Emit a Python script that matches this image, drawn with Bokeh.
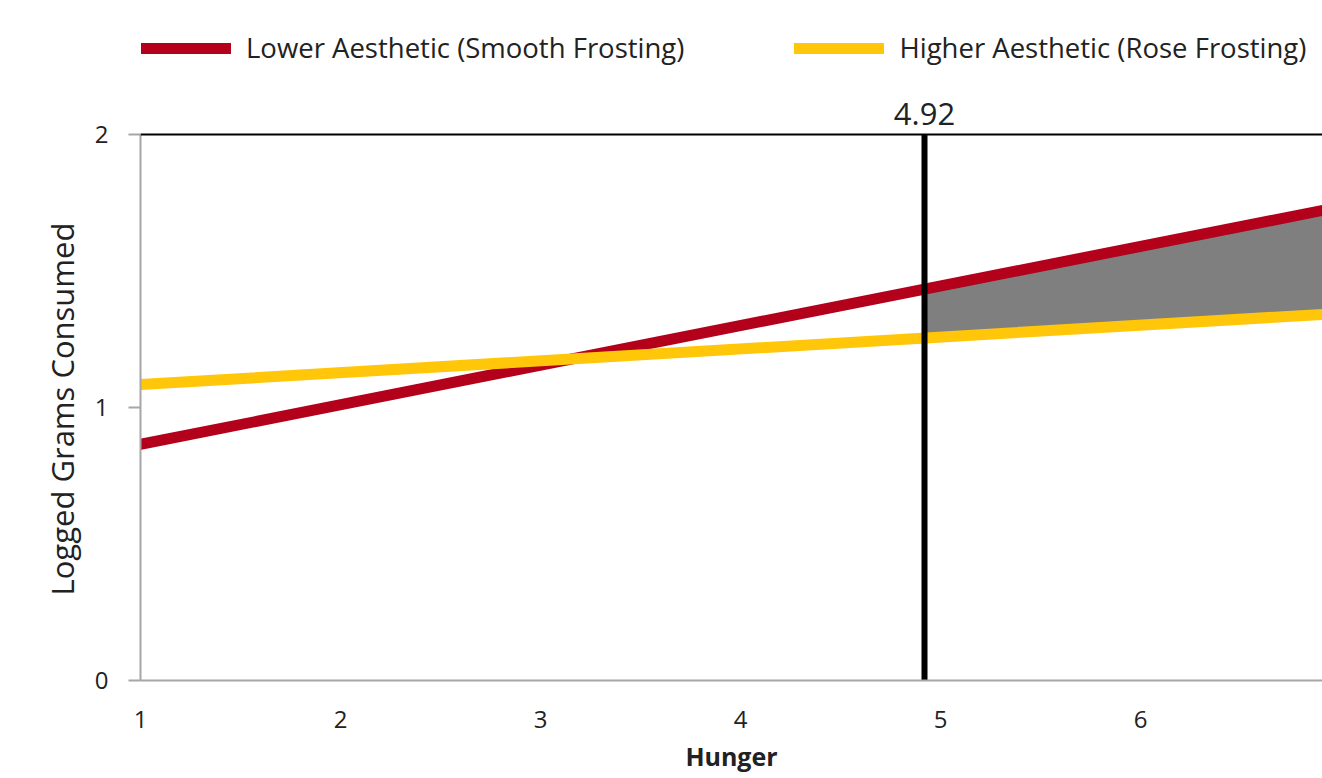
from bokeh.plotting import figure
from bokeh.models import Range1d, Span, Label, Legend, LegendItem, FixedTicker, Title
from bokeh.embed import file_html
from bokeh.resources import INLINE

# Data
hunger = [1, 7]
lower_aesthetic = [0.865, 1.735]   # Smooth Frosting
higher_aesthetic = [1.084, 1.345]  # Rose Frosting
cutoff = 4.92
cutoff_y = [0, 2]
region_x = [4.92, 7]
region_low = [1.255, 1.345]
region_high = [1.433, 1.735]
x_ticks = [1, 2, 3, 4, 5, 6]
y_ticks = [0, 1, 2]

RED = "#B3001B"
YEL = "#FFC60A"
FONT = "Open Sans"

# frame covers the full height above the x axis; value axis bounded to 0..2
p = figure(width=1322, height=778, output_backend="svg", toolbar_location=None,
           x_range=Range1d(1, 6.91), y_range=Range1d(0, 2.4908))
p.min_border_left = 140
p.min_border_right = 0
p.min_border_top = 0
p.min_border_bottom = 98
p.outline_line_color = None
p.grid.visible = False
p.background_fill_color = "white"
p.border_fill_color = "white"

# shaded region
p.varea(x=region_x, y1=region_low, y2=region_high, fill_color="#7F7F7F")

r_low = p.line(hunger, lower_aesthetic, line_color=RED, line_width=11, line_cap="round")
r_high = p.line(hunger, higher_aesthetic, line_color=YEL, line_width=11, line_cap="round")

# top border line at y=2
p.add_layout(Span(location=2, dimension="width", line_color="black", line_width=2))

# vertical cutoff line
p.line([cutoff, cutoff], cutoff_y, line_color="black", line_width=6)
p.add_layout(Label(x=cutoff, y=2, text=f"{cutoff:.2f}", text_align="center",
                   text_baseline="bottom", y_offset=9, text_font=FONT,
                   text_font_size="31px", text_color="#222222"))

# axes
xa = p.below[0]
xa.ticker = FixedTicker(ticks=x_ticks)
xa.axis_line_color = "#A6A6A6"
xa.axis_line_width = 2
xa.major_tick_line_color = None
xa.minor_tick_line_color = None
xa.major_label_standoff = 24
xa.major_label_text_font = FONT
xa.major_label_text_font_size = "24px"
xa.major_label_text_color = "#222222"
xa.axis_label = "Hunger"
xa.axis_label_text_font = FONT
xa.axis_label_text_font_size = "25px"
xa.axis_label_text_font_style = "bold"
xa.axis_label_text_color = "#222222"
xa.axis_label_standoff = 8

ya = p.left[0]
ya.ticker = FixedTicker(ticks=y_ticks)
ya.bounds = (0, 2)
ya.axis_line_color = "#A6A6A6"
ya.axis_line_width = 2
ya.major_tick_line_color = "#A6A6A6"
ya.major_tick_line_width = 2
ya.major_tick_in = 0
ya.major_tick_out = 12
ya.minor_tick_line_color = None
ya.major_label_standoff = 20
ya.major_label_text_font = FONT
ya.major_label_text_font_size = "24px"
ya.major_label_text_color = "#222222"

# value-axis title, placed alongside the 0..2 part of the axis
p.add_layout(Title(text="Logged Grams Consumed", align="left", offset=85,
                   text_font=FONT, text_font_size="31px", text_font_style="normal",
                   text_color="#222222", standoff=18), "left")

legend = Legend(items=[LegendItem(label="Lower Aesthetic (Smooth Frosting)", renderers=[r_low]),
                       LegendItem(label="Higher Aesthetic (Rose Frosting)", renderers=[r_high])],
                orientation="horizontal",
                glyph_width=90, glyph_height=24, label_standoff=15, spacing=110,
                padding=0, margin=0, border_line_color=None, background_fill_alpha=0,
                label_text_font=FONT, label_text_font_size="27.5px", label_text_color="#222222",
                label_height=24)
legend.location = (1, 680 - 66)
p.add_layout(legend, "center")

open("out.html", "w").write(file_html(p, INLINE))
